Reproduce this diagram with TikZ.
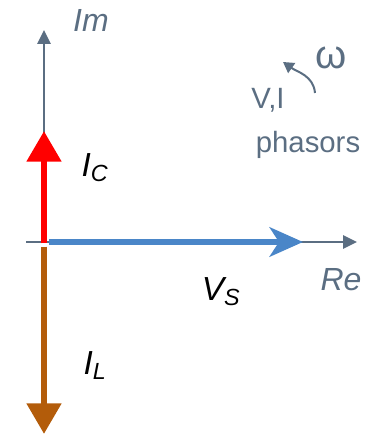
\documentclass[tikz,border=0pt]{standalone}
\usepackage{fontspec}
\setmainfont{Liberation Sans}
\usepackage{tikz}
\usetikzlibrary{arrows.meta}
\definecolor{Axis}{HTML}{5B6E82}
\definecolor{Vblue}{HTML}{4A86C8}
\definecolor{Ired}{HTML}{FF0000}
\definecolor{Ibrown}{HTML}{B35C0A}
\tikzset{
  axis/.style={draw=Axis,line width=1.5pt,-{Triangle[length=10.5pt,width=10pt]}},
  phasor/.style={line width=5.2pt,-{Triangle[length=23pt,width=25pt]}},
  vphasor/.style={draw=Vblue,line width=5.2pt,-{Stealth[length=25pt,width=22pt,inset=7pt]}},
  hand/.style={text=Axis,font=\fontsize{24}{26}\selectfont\itshape},
  lbl/.style={font=\fontsize{25}{28}\selectfont\itshape,inner sep=0pt},
  note/.style={text=Axis,font=\fontsize{22}{24}\selectfont,inner sep=0pt},
}
\begin{document}
\begin{tikzpicture}[x=0.75pt,y=-0.75pt,line join=round]
\useasboundingbox (0,0) rectangle (365,434);
% axes
\coordinate (O) at (44,242);
\coordinate (ytop) at (44,30);
\coordinate (xleft) at (26,242);
\coordinate (xright) at (357,242);
\draw[axis] (O) -- (ytop);
\draw[axis] (xleft) -- (xright);
\node[hand] (im) at (91,20) {Im};
\node[hand] (re) at (341,280) {Re};
% phasors
\coordinate (ic) at (44,131);
\coordinate (il) at (44,434);
\coordinate (vs) at (303,242);
\draw[phasor,draw=Ibrown] ([yshift=-3.5pt]O) -- (il);
\draw[phasor,draw=Ired] ([yshift=-1pt]O) -- (ic);
\draw[vphasor] ([xshift=4pt]O) -- (vs);
\node[lbl] (lic) at (95,168) {I\textsubscript{C}};
\node[lbl] (lil) at (95,366) {I\textsubscript{L}};
\node[lbl] (lvs) at (221,292) {V\textsubscript{S}};
% rotation note
\node[note] (vi) at (268,100) {V,I};
\node[note] (ph) at (308,145) {phasors};
\node[text=Axis,font=\fontsize{30}{32}\selectfont,inner sep=0pt] (om) at (331,58) {ω};
\coordinate (w1) at (315,93);
\coordinate (w2) at (283,62);
\draw[draw=Axis,line width=1.5pt,-{Triangle[length=8pt,width=9pt]}] (w1) to[out=95,in=-35] (w2);
\end{tikzpicture}
\end{document}
